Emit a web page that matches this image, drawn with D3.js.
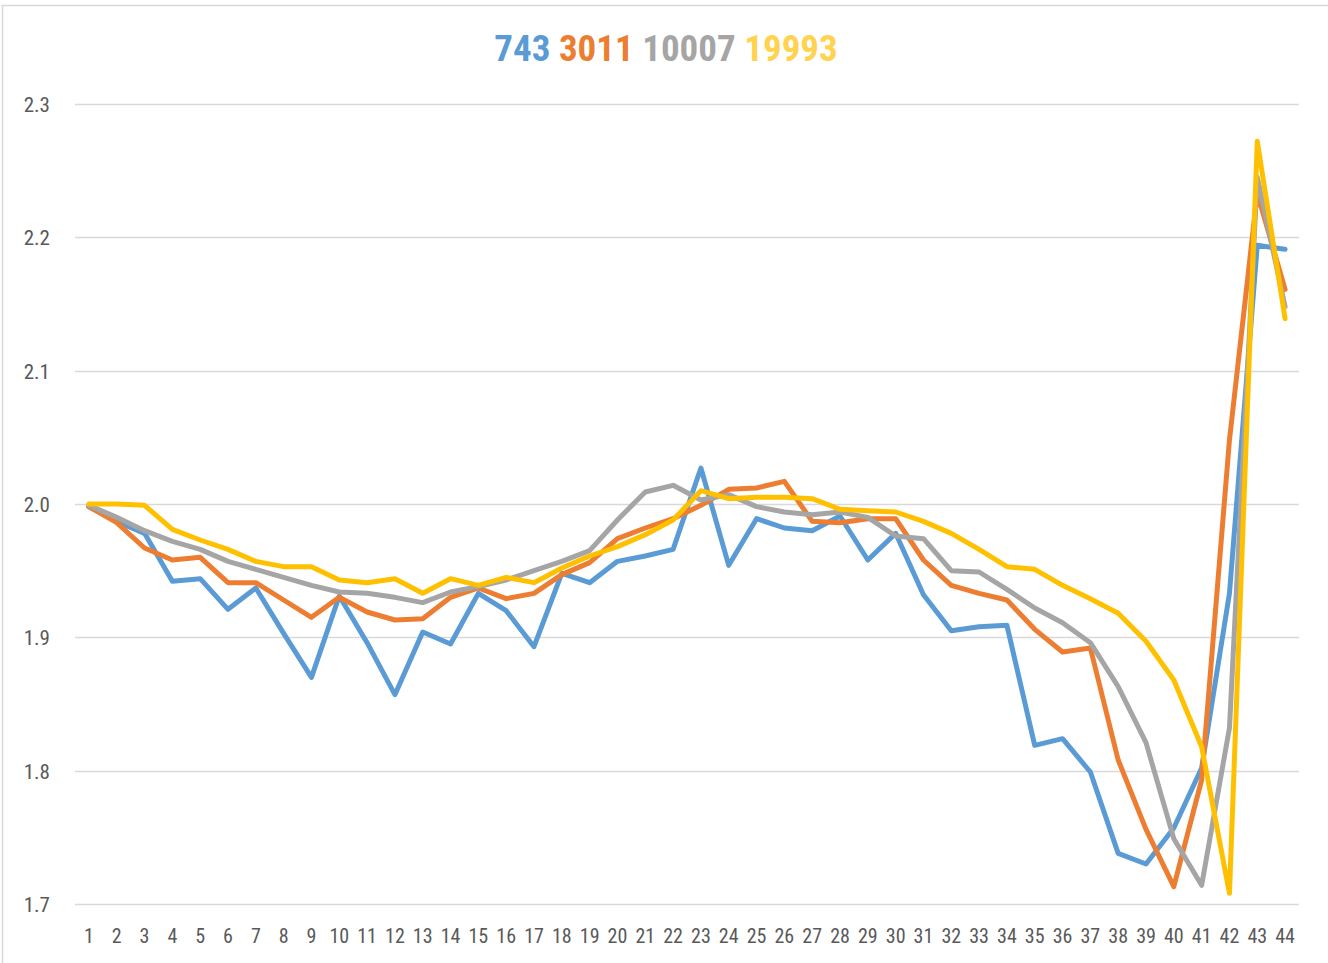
<!DOCTYPE html>
<html>
<head>
<meta charset="utf-8">
<script src="https://cdn.jsdelivr.net/npm/d3@7"></script>
<style>
  html, body { margin: 0; padding: 0; background: #fff; }
  svg { display: block; }
</style>
</head>
<body>
<svg id="chart" width="1328" height="963"></svg>
<script>
const categories = d3.range(1, 45).map(String);
const seriesNames = ["743", "3011", "10007", "19993"];
const seriesColors = ["#5B9BD5", "#ED7D31", "#A5A5A5", "#FFC000"];
const titleColors = ["#5B9BD5", "#ED7D31", "#A5A5A5", "#FFD34F"];
const yTicks = [1.7, 1.8, 1.9, 2.0, 2.1, 2.2, 2.3];

const s743 = [1.998, 1.987, 1.978, 1.942, 1.944, 1.921, 1.937, 1.903, 1.870, 1.931,
  1.896, 1.857, 1.904, 1.895, 1.933, 1.920, 1.893, 1.948, 1.941, 1.957,
  1.961, 1.966, 2.027, 1.954, 1.989, 1.982, 1.980, 1.991, 1.958, 1.978,
  1.932, 1.905, 1.908, 1.909, 1.819, 1.824, 1.799, 1.738, 1.730, 1.757,
  1.802, 1.933, 2.194, 2.191];
const s3011 = [1.998, 1.986, 1.967, 1.958, 1.960, 1.941, 1.941, 1.928, 1.915, 1.930,
  1.919, 1.913, 1.914, 1.930, 1.937, 1.929, 1.933, 1.947, 1.956, 1.974,
  1.982, 1.989, 1.999, 2.011, 2.012, 2.017, 1.987, 1.986, 1.989, 1.989,
  1.958, 1.939, 1.933, 1.928, 1.906, 1.889, 1.892, 1.808, 1.756, 1.713,
  1.793, 2.048, 2.233, 2.161];
const s10007 = [1.999, 1.990, 1.980, 1.972, 1.966, 1.957, 1.951, 1.945, 1.939, 1.934,
  1.933, 1.930, 1.926, 1.934, 1.938, 1.943, 1.950, 1.957, 1.965, 1.988,
  2.009, 2.014, 2.003, 2.007, 1.998, 1.994, 1.992, 1.994, 1.990, 1.976,
  1.974, 1.950, 1.949, 1.936, 1.922, 1.911, 1.896, 1.863, 1.821, 1.749,
  1.714, 1.832, 2.245, 2.148];
const s19993 = [2.000, 2.000, 1.999, 1.981, 1.973, 1.966, 1.957, 1.953, 1.953, 1.943,
  1.941, 1.944, 1.933, 1.944, 1.939, 1.945, 1.941, 1.952, 1.961, 1.968,
  1.977, 1.988, 2.010, 2.004, 2.005, 2.005, 2.004, 1.996, 1.995, 1.994,
  1.987, 1.978, 1.966, 1.953, 1.951, 1.939, 1.929, 1.918, 1.897, 1.868,
  1.818, 1.708, 2.272, 2.139];
const seriesValues = [s743, s3011, s10007, s19993];

const svg = d3.select("#chart");
const W = 1328, H = 963;
const plot = { left: 75, right: 1299, top: 104, bottom: 904 };

// chart frame
svg.append("rect")
  .attr("x", 2.5).attr("y", 5.5)
  .attr("width", W + 10).attr("height", H + 10)
  .attr("fill", "#fff").attr("stroke", "#D9D9D9").attr("stroke-width", 1.5);

const x = d3.scaleBand().domain(categories).range([plot.left, plot.right]);
const y = d3.scaleLinear().domain([1.7, 2.3]).range([plot.bottom, plot.top]);

// gridlines
svg.append("g").selectAll("line").data(yTicks).join("line")
  .attr("x1", plot.left).attr("x2", plot.right)
  .attr("y1", d => Math.round(y(d)) + 0.5).attr("y2", d => Math.round(y(d)) + 0.5)
  .attr("stroke", "#D9D9D9").attr("stroke-width", 1.5);

const fontFam = "'Liberation Sans Narrow', 'Roboto Condensed', 'Open Sans Condensed', 'Liberation Sans', sans-serif";

// y axis
const yAxis = d3.axisLeft(y).tickValues(yTicks).tickSize(0).tickPadding(0)
  .tickFormat(d3.format(".1f"));
const gy = svg.append("g").attr("transform", `translate(50,0)`).call(yAxis);
gy.select(".domain").remove();
gy.selectAll("text").attr("fill", "#595959").style("font-family", fontFam).style("font-size", "21px")
  .attr("dy", "0.35em");

// x axis
const xAxis = d3.axisBottom(x).tickSize(0).tickPadding(0);
const gx = svg.append("g").attr("transform", `translate(0,${plot.bottom})`).call(xAxis);
gx.select(".domain").remove();
gx.selectAll("text").attr("fill", "#595959").style("font-family", fontFam).style("font-size", "20px")
  .attr("y", 39).attr("dy", 0);

// lines
const line = d3.line()
  .x((d, i) => x(categories[i]) + x.bandwidth() / 2)
  .y(d => y(d));

svg.append("g").selectAll("path").data(seriesValues).join("path")
  .attr("d", d => line(d))
  .attr("fill", "none")
  .attr("stroke", (d, i) => seriesColors[i])
  .attr("stroke-width", 5)
  .attr("stroke-linejoin", "round")
  .attr("stroke-linecap", "round");

// title / legend
const title = svg.append("text")
  .attr("x", 666).attr("y", 61)
  .attr("text-anchor", "middle")
  .style("font-family", fontFam)
  .style("font-size", "37px")
  .style("font-weight", "bold");
seriesNames.forEach((n, i) => {
  title.append("tspan").attr("fill", titleColors[i]).text((i ? " " : "") + n);
});
</script>
</body>
</html>
